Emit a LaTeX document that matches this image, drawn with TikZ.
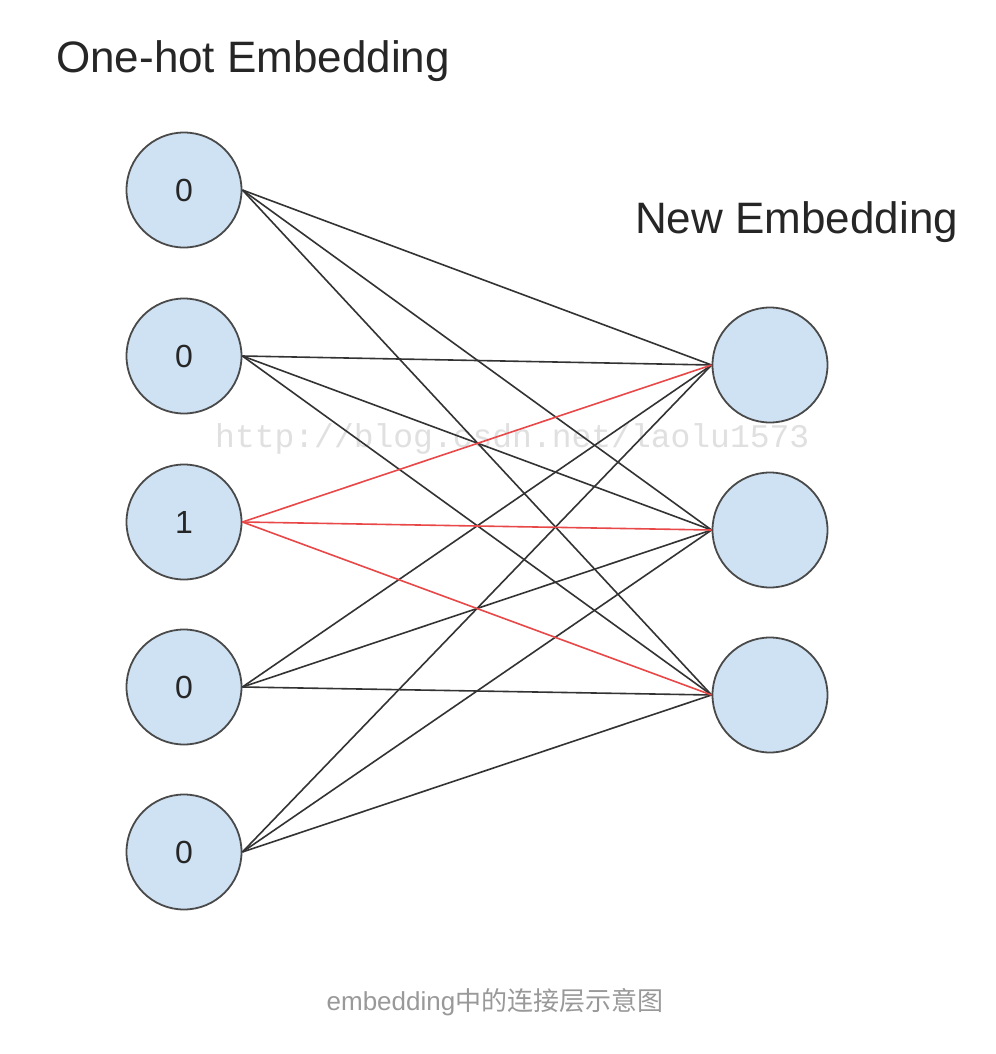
\documentclass[tikz,border=0pt]{standalone}
\usepackage{fontspec}
\setmainfont{Liberation Sans}
\newfontfamily\cjkfont{Noto Sans CJK SC}
\newfontfamily\wmfont{Liberation Mono}
\definecolor{nodefill}{HTML}{CFE2F3}
\definecolor{nodeline}{HTML}{4A4A4A}
\definecolor{edgegray}{HTML}{333333}
\definecolor{edgered}{HTML}{E84848}
\definecolor{captiongray}{HTML}{999999}
\definecolor{wmgray}{HTML}{E0E0E0}
\begin{document}
\begin{tikzpicture}[x=1bp,y=-1bp,
  unit/.style={circle,draw=nodeline,line width=1.8bp,fill=nodefill,minimum size=115bp,inner sep=0pt,
    font=\fontsize{32bp}{34bp}\selectfont,text=black!85},
  title/.style={anchor=base west,inner sep=0pt,font=\fontsize{44bp}{48bp}\selectfont,text=black!85},
  edge/.style={draw=edgegray,line width=1.6bp},
  hot/.style={draw=edgered,line width=1.6bp}]
\useasboundingbox[fill=white] (0,0) rectangle (996,1054);
% titles
\node[title] (t1) at (56,72) {One-hot Embedding};
\node[title] (t2) at (635,233) {New Embedding};
% watermark
\node[anchor=base west,inner sep=0pt,text=wmgray,font=\wmfont\fontsize{33bp}{34bp}\selectfont] (wm) at (215,447) {http://blog.csdn.net/laolu1573};
% input units
\node[unit] (l1) at (184,190) {0};
\node[unit] (l2) at (184,356) {0};
\node[unit] (l3) at (184,522) {1};
\node[unit] (l4) at (184,687) {0};
\node[unit] (l5) at (184,852) {0};
% output units
\node[unit] (r1) at (770,365) {};
\node[unit] (r2) at (770,530) {};
\node[unit] (r3) at (770,695) {};
% connections
\foreach \i in {1,2,4,5}{
  \foreach \j in {1,2,3}{
    \draw[edge] (l\i.east) -- (r\j.west);
  }
}
\foreach \j in {1,2,3}{
  \draw[hot] (l3.east) -- (r\j.west);
}
% caption
\node[inner sep=0pt,text=captiongray,font=\fontsize{26bp}{28bp}\selectfont] (cap) at (495,1002) {embedding{\cjkfont 中的连接层示意图}};
\end{tikzpicture}
\end{document}
